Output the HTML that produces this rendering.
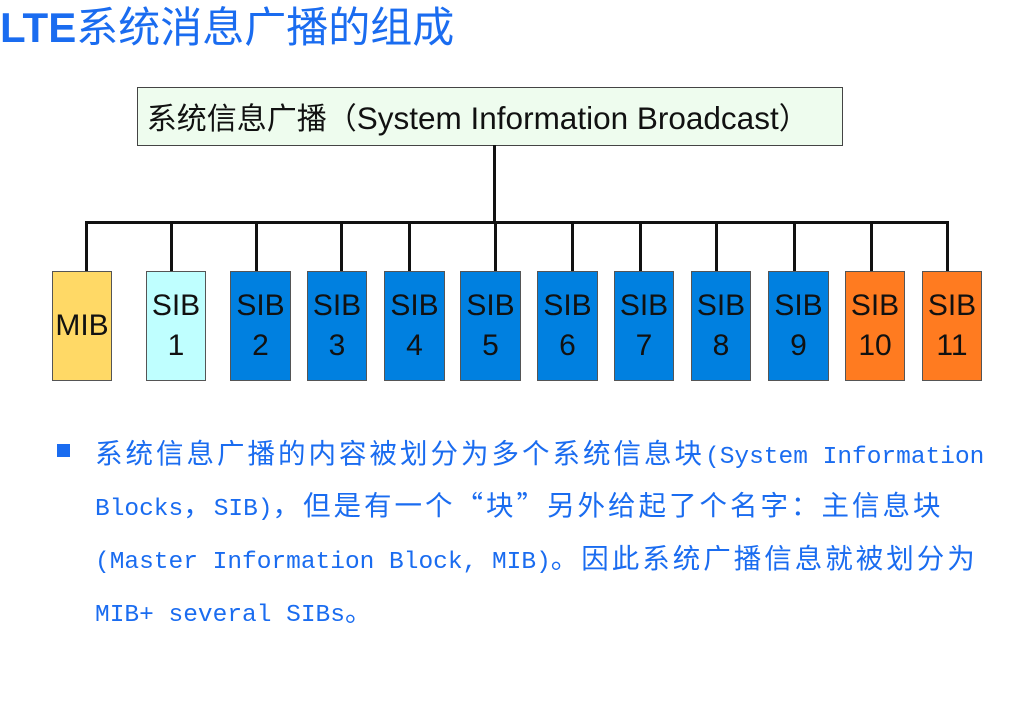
<!DOCTYPE html>
<html><head><meta charset="utf-8"><style>
body{margin:0;width:1031px;height:710px;background:#fff;position:relative;overflow:hidden;font-family:"Liberation Sans","Noto Sans CJK SC",sans-serif}
.t{position:absolute;left:0;top:3px;font-size:42px;color:#1a6cf0;white-space:nowrap;line-height:50px}
.t b{font-family:"Liberation Sans",sans-serif;font-weight:bold}
.top{position:absolute;left:137px;top:87px;width:704px;height:57px;border:1px solid #444;background:#eefcee;font-size:31.5px;line-height:57px;white-space:nowrap;color:#111}
.top .c{font-family:"Noto Sans CJK SC",sans-serif;font-size:30px}
.ln{position:absolute;background:#111}
.bx{position:absolute;top:271px;height:108px;border:1px solid #555;font-size:30px;line-height:40px;text-align:center;color:#111;display:flex;flex-direction:column;justify-content:center}
.p{position:absolute;left:95px;font-size:24.5px;color:#1a6cf0;white-space:nowrap;font-family:"Liberation Mono",monospace;line-height:30px}
.p .c{font-family:"Noto Sans CJK SC",sans-serif;font-size:27.5px;letter-spacing:3px}
.bul{position:absolute;left:57px;top:444px;width:13px;height:13px;background:#1a6cf0}
</style></head><body>
<div class="t"><b>LTE</b>系统消息广播的组成</div>
<div class="top">&nbsp;<span class="c">系统信息广播（</span>System Information Broadcast<span class="c">）</span></div>
<div class="ln" style="left:493px;top:145px;width:3px;height:78px"></div>
<div class="ln" style="left:85px;top:221px;width:863px;height:3px"></div>
<div class="ln" style="left:85px;top:221px;width:3px;height:50px"></div>
<div class="ln" style="left:170px;top:221px;width:3px;height:50px"></div>
<div class="ln" style="left:255px;top:221px;width:3px;height:50px"></div>
<div class="ln" style="left:340px;top:221px;width:3px;height:50px"></div>
<div class="ln" style="left:408px;top:221px;width:3px;height:50px"></div>
<div class="ln" style="left:494px;top:221px;width:3px;height:50px"></div>
<div class="ln" style="left:571px;top:221px;width:3px;height:50px"></div>
<div class="ln" style="left:639px;top:221px;width:3px;height:50px"></div>
<div class="ln" style="left:715px;top:221px;width:3px;height:50px"></div>
<div class="ln" style="left:793px;top:221px;width:3px;height:50px"></div>
<div class="ln" style="left:870px;top:221px;width:3px;height:50px"></div>
<div class="ln" style="left:946px;top:221px;width:3px;height:50px"></div>
<div class="bx" style="left:52px;width:58px;background:#ffd966">MIB</div>
<div class="bx" style="left:146px;width:58px;background:#bfffff">SIB<br>1</div>
<div class="bx" style="left:230px;width:59px;background:#0080e0">SIB<br>2</div>
<div class="bx" style="left:307px;width:58px;background:#0080e0">SIB<br>3</div>
<div class="bx" style="left:384px;width:59px;background:#0080e0">SIB<br>4</div>
<div class="bx" style="left:460px;width:59px;background:#0080e0">SIB<br>5</div>
<div class="bx" style="left:537px;width:59px;background:#0080e0">SIB<br>6</div>
<div class="bx" style="left:614px;width:58px;background:#0080e0">SIB<br>7</div>
<div class="bx" style="left:691px;width:58px;background:#0080e0">SIB<br>8</div>
<div class="bx" style="left:768px;width:59px;background:#0080e0">SIB<br>9</div>
<div class="bx" style="left:845px;width:58px;background:#ff7b20">SIB<br>10</div>
<div class="bx" style="left:922px;width:58px;background:#ff7b20">SIB<br>11</div>
<div class="bul"></div>
<div class="p" style="top:436px"><span class="c">系统信息广播的内容被划分为多个系统信息块</span>(System Information</div>
<div class="p" style="top:488px">Blocks<span class="c">，</span>SIB)<span class="c">，但是有一个“块”另外给起了个名字：主信息块</span></div>
<div class="p" style="top:541px">(Master Information Block, MIB)<span class="c">。因此系统广播信息就被划分为</span></div>
<div class="p" style="top:594px">MIB+ several SIBs<span class="c">。</span></div>
</body></html>
